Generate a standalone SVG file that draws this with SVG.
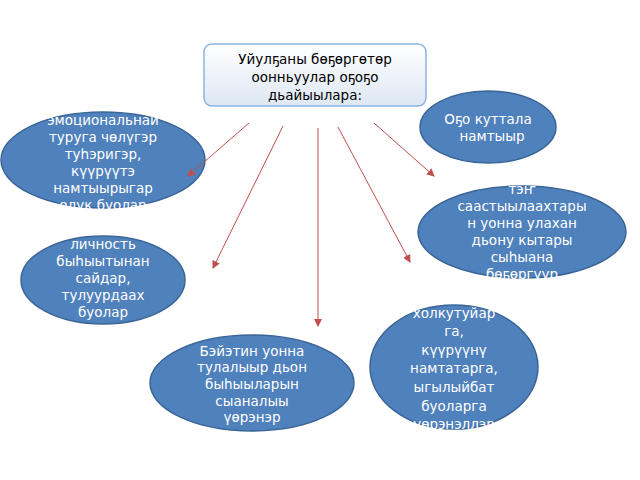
<svg xmlns="http://www.w3.org/2000/svg" width="640" height="480" viewBox="0 0 640 480">
<style>
.e{fill:#4f81bd;stroke:#3a6597;stroke-width:1.5}
.t{font-family:"DejaVu Sans","Noto Sans",sans-serif;font-size:13.5px;fill:#fff;text-anchor:middle}
.h{font-family:"DejaVu Sans","Noto Sans",sans-serif;font-size:13.5px;fill:#000;text-anchor:middle}
.c{stroke:#c0504d;stroke-width:1;fill:none;marker-end:url(#a)}
</style>
<defs>
<marker id="a" markerWidth="8" markerHeight="8" refX="7" refY="4" orient="auto" markerUnits="userSpaceOnUse"><path d="M0,0 L8,4 L0,8 Z" fill="#c0504d"/></marker>
<linearGradient id="g" x1="0" y1="0" x2="0" y2="1"><stop offset="0" stop-color="#ffffff"/><stop offset="1" stop-color="#dde7f3"/></linearGradient>
</defs>
<rect width="640" height="480" fill="#fff"/>
<g id="title"><rect x="204" y="44" width="222" height="62" rx="8" fill="url(#g)" stroke="#8db3e2" stroke-width="1.5"/>
<text class="h" x="315" y="64">Уйулҕаны  бөҕөргөтөр</text><text class="h" x="315" y="82">оонньуулар оҕоҕо</text><text class="h" x="315" y="100">дьайыылара:</text></g>
<g id="n1"><ellipse class="e" cx="488" cy="127" rx="68" ry="36"/><text class="t" x="488" y="124">Оҕо куттала</text><text class="t" x="492" y="141">намтыыр</text></g>
<g id="n2"><ellipse class="e" cx="103" cy="160" rx="102" ry="48"/>
<text class="t" x="103" y="125">эмоциональнай</text><text class="t" x="103" y="142">туруга чөлүгэр</text><text class="t" x="103" y="159">туһэригэр,</text><text class="t" x="103" y="176">күүрүүтэ</text><text class="t" x="103" y="193">намтыырыгар</text><text class="t" x="103" y="210">олук буолар</text></g>
<g id="n3"><ellipse class="e" cx="103" cy="280" rx="82" ry="44"/>
<text class="t" x="103" y="249">личность</text><text class="t" x="103" y="266">быһыытынан</text><text class="t" x="103" y="283">сайдар,</text><text class="t" x="103" y="300">тулуурдаах</text><text class="t" x="103" y="317">буолар</text></g>
<g id="n4"><ellipse class="e" cx="522" cy="232" rx="104" ry="46"/>
<text class="t" x="522" y="194">тэҥ</text><text class="t" x="522" y="211">саастыылаахтары</text><text class="t" x="522" y="228">н  уонна улахан</text><text class="t" x="522" y="245">дьону кытары</text><text class="t" x="522" y="262">сыһыана</text><text class="t" x="522" y="279">бөҕөргүүр</text></g>
<g id="n5"><ellipse class="e" cx="454" cy="367" rx="84" ry="62"/>
<text class="t" x="454" y="318">холкутуйар</text><text class="t" x="454" y="336">га,</text><text class="t" x="454" y="355">күүрүүнү</text><text class="t" x="454" y="373">намтатарга,</text><text class="t" x="454" y="392">ыгылыйбат</text><text class="t" x="454" y="411">буоларга</text><text class="t" x="454" y="429">үөрэнэллэр</text></g>
<g id="n6"><ellipse class="e" cx="252" cy="383" rx="102" ry="48"/>
<text class="t" x="252" y="356">Бэйэтин уонна</text><text class="t" x="252" y="372">тулалыыр дьон</text><text class="t" x="252" y="389">быһыыларын</text><text class="t" x="252" y="406">сыаналыы</text><text class="t" x="252" y="422">үөрэнэр</text></g>
<g id="connectors">
<line class="c" x1="249" y1="123" x2="188" y2="176"/>
<line class="c" x1="283" y1="126" x2="213" y2="268"/>
<line class="c" x1="318" y1="128" x2="318" y2="326"/>
<line class="c" x1="338" y1="127" x2="410" y2="262"/>
<line class="c" x1="374" y1="123" x2="434" y2="176"/>
</g>
</svg>
